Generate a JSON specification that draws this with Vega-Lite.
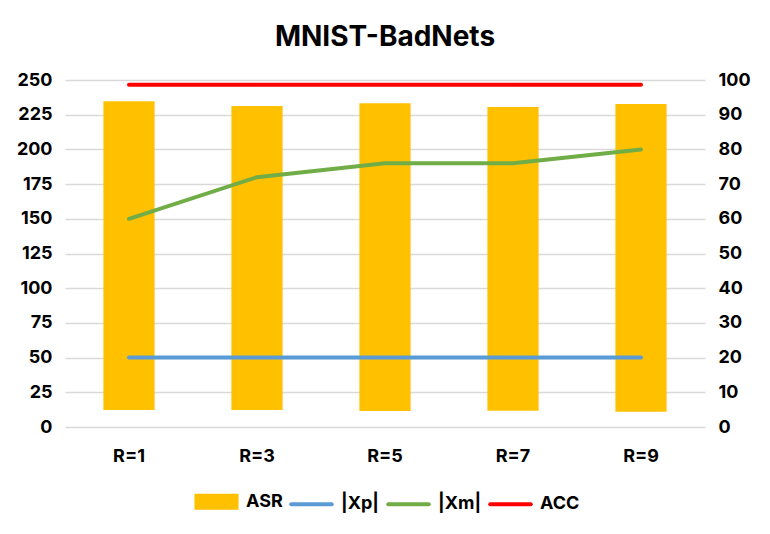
{
  "$schema": "https://vega.github.io/schema/vega-lite/v6.json",
  "width": 640,
  "height": 347,
  "autosize": {"type": "none"},
  "padding": {"left": 65, "top": 80, "right": 65, "bottom": 107},
  "background": "white",
  "title": {"text": "MNIST-BadNets", "fontSize": 28, "font": "Inter", "fontWeight": "bold", "color": "black", "anchor": "middle", "offset": 19},
  "datasets": {
    "bars": [
      {"R": "R=1", "series": "ASR", "lo": 4.9, "hi": 93.9},
      {"R": "R=3", "series": "ASR", "lo": 4.9, "hi": 92.5},
      {"R": "R=5", "series": "ASR", "lo": 4.6, "hi": 93.3},
      {"R": "R=7", "series": "ASR", "lo": 4.7, "hi": 92.2},
      {"R": "R=9", "series": "ASR", "lo": 4.4, "hi": 93.1}
    ],
    "left": [
      {"R": "R=1", "series": "|Xp|", "value": 50},
      {"R": "R=3", "series": "|Xp|", "value": 50},
      {"R": "R=5", "series": "|Xp|", "value": 50},
      {"R": "R=7", "series": "|Xp|", "value": 50},
      {"R": "R=9", "series": "|Xp|", "value": 50},
      {"R": "R=1", "series": "|Xm|", "value": 150},
      {"R": "R=3", "series": "|Xm|", "value": 180},
      {"R": "R=5", "series": "|Xm|", "value": 190},
      {"R": "R=7", "series": "|Xm|", "value": 190},
      {"R": "R=9", "series": "|Xm|", "value": 200}
    ],
    "acc": [
      {"R": "R=1", "series": "ACC", "value": 98.6},
      {"R": "R=3", "series": "ACC", "value": 98.6},
      {"R": "R=5", "series": "ACC", "value": 98.6},
      {"R": "R=7", "series": "ACC", "value": 98.6},
      {"R": "R=9", "series": "ACC", "value": 98.6}
    ]
  },
  "config": {
    "view": {"stroke": null},
    "font": "Inter",
    "axis": {"labelFont": "Inter", "labelFontWeight": "bold", "labelFontSize": 18, "labelColor": "black", "domain": false, "ticks": false, "title": null}
  },
  "encoding": {
    "x": {
      "field": "R", "type": "ordinal", "sort": null,
      "scale": {"domain": ["R=1", "R=3", "R=5", "R=7", "R=9"], "paddingInner": 0.6, "paddingOuter": 0.3},
      "axis": {"labelAngle": 0, "labelPadding": 20, "grid": false}
    },
    "color": {
      "field": "series", "type": "nominal",
      "scale": {"domain": ["ASR", "|Xp|", "|Xm|", "ACC"], "range": ["#FFC000", "#5B9BD5", "#70AD47", "#FF0000"]},
      "legend": {
        "title": null, "orient": "none", "direction": "horizontal", "legendX": 127, "legendY": 397,
        "labelFont": "Inter", "labelFontWeight": "bold", "labelFontSize": 18, "labelColor": "black",
        "labelOffset": 5, "columnPadding": 0, "symbolSize": 2025,
        "encode": {
          "symbols": {
            "update": {
              "shape": {"signal": "datum.value === 'ASR' ? 'M-0.89,-0.27H0.89V0.27H-0.89Z' : 'M-0.9,0H0.9'"},
              "fill": {"signal": "datum.value === 'ASR' ? '#FFC000' : 'transparent'"},
              "stroke": {"signal": "datum.value === 'ASR' ? 'transparent' : (datum.value === '|Xp|' ? '#5B9BD5' : (datum.value === '|Xm|' ? '#70AD47' : '#FF0000'))"},
              "strokeWidth": {"value": 4},
              "strokeCap": {"value": "round"},
              "opacity": {"value": 1}
            }
          }
        }
      }
    }
  },
  "layer": [
    {
      "data": {"name": "bars"},
      "mark": {"type": "bar"},
      "encoding": {
        "y": {"field": "hi", "type": "quantitative", "scale": {"domain": [0, 100], "nice": false}, "axis": {"orient": "right", "values": [0, 10, 20, 30, 40, 50, 60, 70, 80, 90, 100], "labelPadding": 13, "grid": false}},
        "y2": {"field": "lo"}
      }
    },
    {
      "data": {"name": "left"},
      "mark": {"type": "line", "strokeWidth": 4, "strokeCap": "round"},
      "encoding": {
        "y": {"field": "value", "type": "quantitative", "scale": {"domain": [0, 250], "nice": false}, "axis": {"orient": "left", "values": [0, 25, 50, 75, 100, 125, 150, 175, 200, 225, 250], "labelPadding": 13, "grid": true, "gridColor": "#d9d9d9", "gridWidth": 1.5}}
      }
    },
    {
      "data": {"name": "acc"},
      "mark": {"type": "line", "strokeWidth": 4, "strokeCap": "round"},
      "encoding": {
        "y": {"field": "value", "type": "quantitative", "scale": {"domain": [0, 100], "nice": false}, "axis": null}
      }
    }
  ],
  "resolve": {"scale": {"y": "independent"}}
}
